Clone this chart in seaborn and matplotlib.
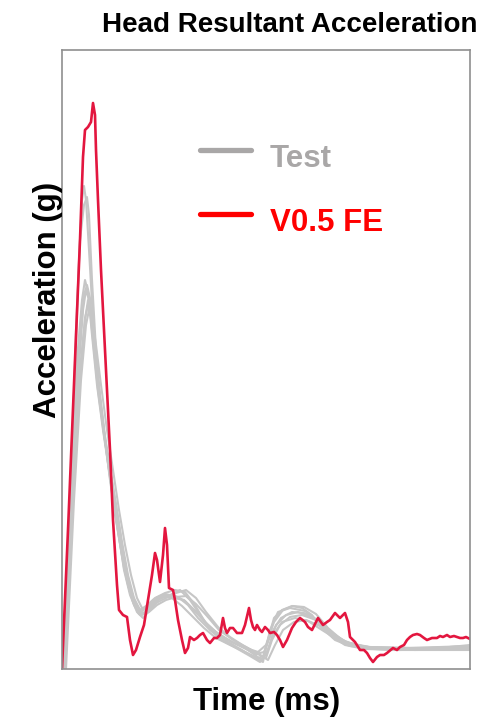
import matplotlib
matplotlib.use("Agg")
import matplotlib.pyplot as plt
from matplotlib.lines import Line2D
from matplotlib.legend_handler import HandlerLine2D
import numpy as np
import seaborn as sns
import pandas as pd

# ---------------- data ----------------
title = "Head Resultant Acceleration"
x_label = "Time (ms)"
y_label = "Acceleration (g)"
legend_labels = ["Test", "V0.5 FE"]

fe_time = [0, 1.5, 3.25, 4.5, 5.25, 5.75, 6.5, 7.25, 7.75, 8.25, 8.5, 9, 9.75, 10.5, 11.25, 12,
           12.75, 13.75, 14.25, 15.25, 16.25, 17, 17.75, 18.5, 19.5, 20.5, 21.5, 22.5, 23.25,
           23.75, 24.5, 25.25, 25.75, 26.25, 26.75, 27.75, 28.25, 29, 30, 30.75, 31.5, 32, 33,
           33.75, 34.5, 35.25, 36.25, 37, 38, 38.75, 39.5, 40.25, 40.75, 41.25, 42, 42.75,
           43.75, 45, 45.75, 46.75, 47.25, 47.75, 48.25, 48.75, 49.5, 50, 50.75, 51.5, 52, 53,
           53.75, 54.5, 55.25, 56.25, 57.5, 58.5, 59.5, 60.75, 61.5, 62.5, 64, 65.25, 66.25, 67,
           68.25, 69.5, 70.75, 71.5, 72, 73.25, 74.5, 75.5, 76.25, 77, 77.75, 78.75, 79.5, 80.5,
           81.25, 82.75, 83.75, 84.5, 85.5, 86.25, 87, 87.75, 88.75, 89.5, 90.5, 91.25, 92.5,
           93.75, 94.5, 95.25, 96.25, 97, 98, 98.75, 99.5, 100.25, 101, 102]
fe_accel = [0, 27.8, 61.8, 85.8, 102.4, 107.8, 108.4, 109.4, 113.2, 110.8, 103.8, 93.8, 79.8,
            67.8, 55.8, 43.8, 29.8, 16.8, 11.8, 10.8, 10.4, 5.8, 2.8, 3.8, 6.4, 8.8, 13.8, 18.8,
            23.2, 21.8, 17.4, 22.8, 28.2, 24.8, 16.2, 15.8, 13.8, 9.8, 5.8, 3.2, 4.2, 6.4, 5.8,
            6.2, 6.8, 7.2, 5.8, 5.2, 6.2, 6.2, 6.8, 10.2, 8.2, 7.2, 8.2, 8.2, 7.2, 7.2, 8.8, 12.2,
            9.8, 8.4, 7.8, 8.8, 7.8, 7.4, 8.4, 7.8, 7.2, 7.4, 6.8, 5.8, 4.4, 5.8, 8.2, 9.4, 10.2,
            9.4, 8.4, 7.8, 10.2, 8.8, 9.4, 9.8, 11.2, 10.2, 11.2, 9.4, 6.4, 5.4, 3.8, 3.8, 3.2,
            2.2, 1.4, 2.4, 2.8, 2.8, 3.2, 4.2, 3.8, 4.4, 4.8, 5.8, 6.4, 6.8, 7.0, 6.8, 6.2, 5.8,
            6.2, 6.2, 6.6, 6.4, 6.8, 6.4, 6.6, 6.4, 6.2, 6.2, 6.4, 6.0]

test1_time = [0.5, 2, 3.5, 4.5, 5.5, 6.25, 6.75, 7.5, 8.5, 9.5, 10.75, 12, 13.5, 15, 16.5, 18,
              19.5, 21, 22.5, 24.5, 27, 29.5, 32, 34.5, 37, 39.5, 42.5, 45.75, 48.25, 50, 51.5,
              53, 55, 57.5, 60, 62.5, 65, 68.25, 72, 77, 84.5, 92, 102]
test1_accel = [0, 29.8, 67.8, 85.8, 92.8, 94.4, 90.8, 77.8, 63.8, 53.8, 45.8, 37.8, 29.8, 22.8,
               16.8, 12.8, 10.8, 11.4, 12.8, 14.2, 14.8, 15.8, 13.8, 10.8, 8.2, 6.8, 5.4, 4.2,
               2.8, 1.8, 5.8, 10.2, 11.8, 12.6, 12.2, 10.8, 8.2, 5.8, 4.6, 4.2, 4.0, 4.2, 4.6]

test2_time = [0.5, 2.5, 4, 5.25, 6, 6.75, 7.75, 9, 10.5, 12, 13.5, 15, 16.5, 18, 19.5, 21, 23.25,
              25.75, 28.25, 30.75, 33.25, 35.75, 38.25, 41.5, 45, 48.25, 50.25, 52, 54, 57,
              60.75, 64, 67, 70.75, 75.75, 84.5, 94.5, 102]
test2_accel = [0, 37.8, 57.8, 71.8, 75.8, 73.8, 65.8, 55.8, 46.8, 39.8, 32.8, 24.8, 17.8, 13.8,
               11.8, 12.6, 14.2, 15.2, 15.8, 15.4, 12.8, 9.4, 7.2, 5.4, 3.8, 2.2, 1.4, 7.8, 11.4,
               12.2, 11.6, 9.4, 6.8, 4.8, 4.0, 3.8, 4.0, 4.2]

test3_time = [0.75, 2.75, 4.5, 5.75, 6.5, 7.25, 8.25, 9.5, 11, 12.5, 14, 15.5, 17, 18.75, 20.25,
              22, 24, 26.5, 29, 31.5, 34, 37, 40, 43.5, 47, 49.5, 51.5, 53.5, 56, 59, 62.5, 66,
              69.5, 74.5, 82, 92, 102]
test3_accel = [0, 33.8, 57.8, 69.8, 73.8, 71.4, 63.8, 54.8, 44.8, 35.8, 27.8, 19.8, 14.8, 11.4,
               10.2, 11.8, 13.8, 14.8, 14.4, 12.8, 10.2, 7.8, 5.8, 4.2, 2.6, 1.4, 3.8, 8.8, 10.8,
               11.4, 10.4, 8.2, 5.8, 4.2, 3.8, 3.8, 3.8]

test4_time = [0.5, 2.25, 3.75, 5, 5.75, 6.5, 7.5, 8.75, 10.25, 11.75, 13.25, 14.75, 16.25, 17.75,
              19.25, 20.75, 22.5, 25, 27.5, 30, 32.5, 35.5, 38.5, 42, 45.75, 49, 51, 52.75, 55,
              58.25, 61.5, 65, 69, 73.5, 79.5, 89.5, 102]
test4_accel = [0, 37.8, 61.8, 73.8, 77.8, 75.4, 66.8, 56.8, 47.8, 39.8, 31.8, 24.2, 17.8, 13.4,
               11.0, 11.4, 13.2, 14.6, 14.2, 12.6, 10.6, 8.2, 6.2, 4.8, 3.4, 2.2, 2.8, 6.8, 9.4,
               10.2, 9.6, 7.8, 5.8, 4.6, 4.2, 4.2, 4.4]

test5_time = [1, 3, 4.75, 6, 6.75, 7.5, 8.5, 9.75, 11.25, 12.75, 14.25, 15.75, 17.25, 18.75,
              20.25, 22, 24, 26, 28.5, 31, 33.5, 36, 39, 42, 45.5, 49, 51, 52.5, 54.5, 57, 60,
              63.5, 67, 71, 76, 84.5, 94.5, 102]
test5_accel = [0, 33.8, 57.8, 68.8, 71.8, 70.2, 64.8, 56.8, 47.8, 39.8, 31.8, 24.8, 18.8, 14.2,
               11.8, 12.2, 13.4, 14.2, 15.2, 15.8, 14.2, 11.4, 8.4, 6.4, 4.6, 3.0, 2.2, 5.8, 8.8,
               10.4, 10.8, 9.8, 7.4, 5.4, 4.4, 4.2, 4.2, 4.8]

test6_time = [0.5, 2.5, 4.25, 5.5, 6.25, 7, 8, 9.25, 10.75, 12.25, 13.75, 15.25, 16.75, 18.25,
              19.75, 21.5, 23.5, 25.75, 28.25, 30.75, 33.25, 36, 39, 42.5, 46, 49, 51, 53, 55.25,
              57.75, 60.5, 63.5, 66.5, 70, 75, 83.25, 93.25, 102]
test6_accel = [0, 39.8, 63.8, 74.8, 76.8, 74.2, 65.8, 55.4, 45.8, 38.2, 30.8, 23.4, 17.2, 13.2,
               11.4, 12.6, 14.2, 15.0, 14.6, 13.6, 11.6, 9.2, 7.0, 5.4, 4.2, 3.4, 4.8, 9.4, 11.8,
               12.6, 12.4, 11.0, 8.2, 5.8, 4.4, 4.2, 4.2, 4.4]

test7_time = [0.5, 2, 3.25, 4.25, 5, 5.5, 6, 6.75, 7.75, 9, 10.5, 12, 13.5, 15, 16.5, 18, 19.5,
              21.25, 23.25, 25.5, 28, 30.5, 33, 35.75, 38.5, 42, 45.5, 48.5, 50.5, 52.5, 54.75,
              57.5, 60.5, 64, 67.5, 71.5, 77, 87, 102]
test7_accel = [0, 33.8, 59.8, 81.8, 93.8, 96.6, 93.8, 83.8, 69.8, 57.8, 47.8, 40.2, 32.8, 25.4,
               18.8, 14.2, 11.8, 12.4, 13.8, 14.6, 14.2, 13.8, 11.8, 9.4, 7.4, 5.6, 4.2, 3.0, 3.4,
               7.4, 10.2, 11.4, 11.2, 9.8, 7.2, 5.2, 4.4, 4.2, 4.6]

test8_time = [0.75, 2.75, 4.5, 5.75, 6.5, 7.25, 8.25, 9.5, 11, 12.5, 14, 15.5, 17, 18.5, 20,
              21.75, 23.75, 26, 28.5, 31, 33.5, 36.25, 39.25, 42.75, 46.5, 49.5, 51.5, 53.25,
              55.25, 58, 61, 64.5, 68, 72, 78.25, 88.25, 102]
test8_accel = [0, 35.8, 59.8, 70.2, 72.8, 70.8, 63.4, 53.8, 44.2, 35.4, 27.4, 20.2, 15.4, 12.2,
               10.8, 11.4, 12.8, 13.8, 14.4, 14.6, 13.0, 10.6, 7.8, 5.8, 4.2, 2.8, 1.8, 4.8, 7.8,
               9.4, 9.8, 8.6, 6.6, 5.0, 4.2, 3.8, 4.0]

test_runs = [
    ("Test 1", test1_time, test1_accel),
    ("Test 2", test2_time, test2_accel),
    ("Test 3", test3_time, test3_accel),
    ("Test 4", test4_time, test4_accel),
    ("Test 5", test5_time, test5_accel),
    ("Test 6", test6_time, test6_accel),
    ("Test 7", test7_time, test7_accel),
    ("Test 8", test8_time, test8_accel),
]

# ---------------- styling ----------------
sns.set_style("white")
plt.rcParams["font.family"] = ["Liberation Sans", "DejaVu Sans"]

GRAY = "#c6c6c6"
RED = "#e3163f"
LEG_GRAY = "#a9a7a7"
LEG_RED = "#ff0000"


class RaisedLineHandler(HandlerLine2D):
    """Legend line drawn slightly above the text centre (as in the source figure)."""

    def create_artists(self, legend, orig_handle, xdescent, ydescent, width, height,
                       fontsize, trans):
        artists = super().create_artists(legend, orig_handle, xdescent, ydescent, width,
                                         height, fontsize, trans)
        for a in artists:
            a.set_ydata(np.asarray(a.get_ydata(), dtype=float) + 4.5)
        return artists


fig = plt.figure(figsize=(4.95, 7.19), dpi=100)
ax = fig.add_axes([62 / 495, 1 - 669 / 719, 408 / 495, 619 / 719])

rows = []
for name, t, a in test_runs:
    for ti, ai in zip(t, a):
        rows.append({"run": name, "time": ti, "accel": ai})
test_df = pd.DataFrame(rows)
fe_df = pd.DataFrame({"time": fe_time, "accel": fe_accel})

sns.lineplot(data=test_df, x="time", y="accel", units="run", estimator=None,
             color=GRAY, linewidth=1.5, sort=False, ax=ax, legend=False)
sns.lineplot(data=fe_df, x="time", y="accel", color=RED, linewidth=1.9,
             sort=False, ax=ax, legend=False)

ax.set_xlim(0, 102)
ax.set_ylim(0, 123.8)
ax.set_xticks([])
ax.set_yticks([])
ax.set_xlabel("")
ax.set_ylabel("")
for s in ax.spines.values():
    s.set_color("#8f8f8f")
    s.set_linewidth(1.2)

handles = [Line2D([], [], color=LEG_GRAY, linewidth=3.8),
           Line2D([], [], color=LEG_RED, linewidth=3.8)]
leg = ax.legend(handles, legend_labels, loc="upper left",
                bbox_to_anchor=((200 - 62) / 408, (669 - 144) / 619),
                frameon=False, prop={"weight": "bold", "size": 22.5},
                handlelength=1.63, handletextpad=0.61, labelspacing=1.09,
                borderpad=0, borderaxespad=0,
                handler_map={Line2D: RaisedLineHandler()})
for txt, c in zip(leg.get_texts(), [LEG_GRAY, LEG_RED]):
    txt.set_color(c)

fig.text(290 / 495, 1 - 32 / 719, title, ha="center", va="baseline",
         fontsize=20, fontweight="bold", color="black")
fig.text(267 / 495, 1 - 710 / 719, x_label, ha="center", va="baseline",
         fontsize=22.5, fontweight="bold", color="black")
fig.text(48 / 495, 1 - 300 / 719, y_label, ha="center", va="center", rotation=90,
         fontsize=22.5, fontweight="bold", color="black")

fig.savefig("out.png", dpi=100, facecolor="white")
